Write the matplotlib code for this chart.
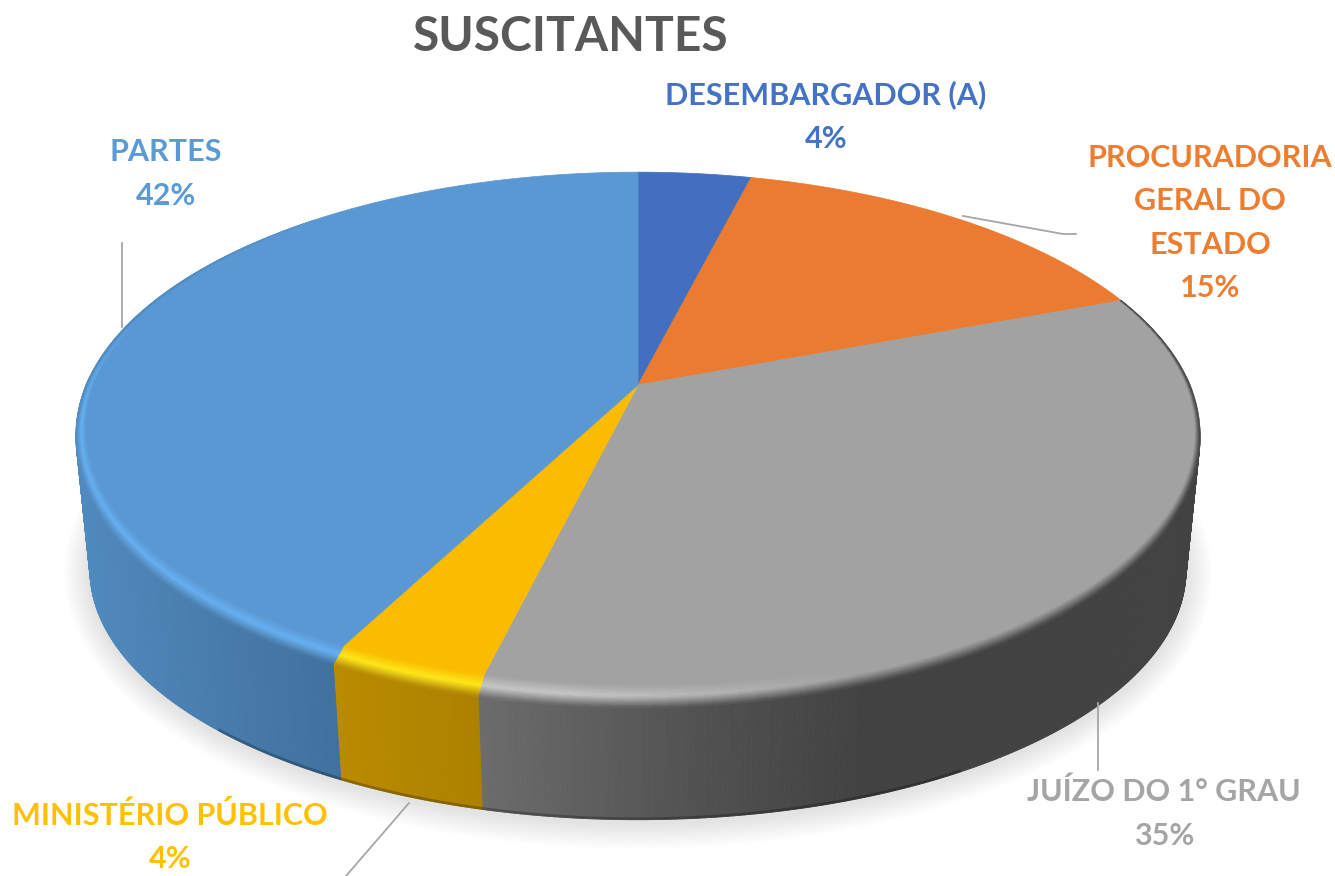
import numpy as np
import matplotlib.pyplot as plt
from matplotlib.collections import PolyCollection
from matplotlib.colors import to_rgb

# =========================
# Data
# =========================

title = "SUSCITANTES"
categories = ["DESEMBARGADOR (A)", "PROCURADORIA\nGERAL DO\nESTADO", "JUÍZO DO 1° GRAU",
              "MINISTÉRIO PÚBLICO", "PARTES"]
values = [3.9, 15.3, 34.6, 3.8, 42.4]

colors = ["#426FBF", "#EA7B30", "#A2A2A2", "#FBBC00", "#5A98D4"]
text_colors = ["#4472C4", "#ED7D31", "#A5A5A5", "#FFC000", "#5B9BD5"]
wall_stops = [
    ([0, 1335], ["#2f4f8a", "#2f4f8a"]),
    ([0, 1335], ["#a5561f", "#a5561f"]),
    ([480, 700, 860, 1335], ["#6c6c6c", "#515151", "#424242", "#424242"]),
    ([340, 480], ["#b98b00", "#ad8100"]),
    ([85, 330], ["#5089bd", "#41719e"]),
]
highlights = ["#4472C4", "#ED7D31", "#c8c8c8", "#ffe81a", "#68b1f2"]

label_pos = [(826, 117), (1210, 223), (1164, 814), (170, 837), (166, 174)]
leaders = [
    [(122, 243), (122, 327)],
    [(963, 216), (1063, 234), (1076, 234)],
    [(1098, 703), (1098, 770)],
    [(409, 803), (346, 876)],
]

# =========================
# Projection of the disk
# =========================

CX, CY = 638, 385
A, B, K = 552, 253, 0.1886
DROP = 11


def top_xy(theta, r=1.0):
    # theta in degrees, clockwise from the back of the disk
    t = np.radians(theta)
    x = r * np.sin(t)
    y = -r * np.cos(t)
    w = 1 - K * y
    return CX + A * x / w, CY + B * y / w


def front(theta):
    return np.clip(-np.cos(np.radians(theta)), 0, 1)


def rim_xy(theta):
    X, Y = top_xy(theta)
    return X, Y + DROP * front(theta)


def bottom_xy(theta):
    X, Y = top_xy(theta)
    return CX + (X - CX) * 0.975, 570 + (Y - 434.5) * 0.952


def mix(c1, c2, f):
    c1 = np.array(to_rgb(c1))
    c2 = np.array(to_rgb(c2))
    return tuple(c1 + (c2 - c1) * f)


def wall_color(i, X):
    xs, cs = wall_stops[i]
    rgb = np.array([to_rgb(c) for c in cs])
    return tuple(np.interp(X, xs, rgb[:, k]) for k in range(3))


fig = plt.figure(figsize=(13.35, 8.76), dpi=100)
ax = fig.add_axes([0, 0, 1, 1])
ax.set_xlim(0, 1335)
ax.set_ylim(876, 0)
ax.axis("off")

edges = np.concatenate([[0], np.cumsum(values)]) * 360 / sum(values)

# shadow
th = np.linspace(0, 360, 361)
bx, by = bottom_xy(th)
for grow in np.linspace(26, 2, 14):
    sx = CX + (bx - CX) * (1 + grow / 550)
    sy = 570 + (by - 570) * (1 + grow / 250) + 3
    ax.fill(sx, sy, color="black", alpha=0.009, lw=0, zorder=1)

# side wall
for i in range(len(values)):
    lo, hi = max(edges[i], 88), min(edges[i + 1], 272)
    if hi <= lo:
        continue
    th = np.linspace(lo, hi, int((hi - lo) * 2) + 2)
    polys, cols = [], []
    for a, b in zip(th[:-1], th[1:]):
        x0, y0 = rim_xy(a)
        x1, y1 = rim_xy(b)
        x2, y2 = bottom_xy(b)
        x3, y3 = bottom_xy(a)
        polys.append([(x0, y0), (x1, y1), (x2, y2), (x3, y3)])
        cols.append(wall_color(i, (x0 + x1 + x2 + x3) / 4))
    ax.add_collection(PolyCollection(polys, facecolors=cols, edgecolors=cols, linewidths=0.6, zorder=2))

# dark line along the foot of the wall
th = np.linspace(150, 222, 120)
fx, fy = bottom_xy(th)
ax.plot(fx, fy - 1, color="black", alpha=0.25, lw=2.0, zorder=3, solid_capstyle="round")

# top of the disk
for i in range(len(values)):
    th = np.linspace(edges[i], edges[i + 1], 200)
    x, y = top_xy(th)
    ax.fill(np.r_[CX, x], np.r_[CY, y], color=colors[i], ec=colors[i], lw=0.5, zorder=4)

# bevel along the rim
bands = np.linspace(0, 1, 15)
polys, cols = [], []
for i in range(len(values)):
    lo, hi = max(edges[i], 62), min(edges[i + 1], 318)
    if hi <= lo or i < 2:
        continue
    th = np.linspace(lo, hi, int((hi - lo) / 1.5) + 2)
    for a, b in zip(th[:-1], th[1:]):
        m = (a + b) / 2
        width = 0.014 + 0.018 * front(m)
        if m < 90:
            width *= 0.35 + 0.65 * (m - 62) / 28
        light = np.clip(1.7 * np.cos(np.radians(1.4 * (m - 225))), 0, 1)
        fade = np.clip((318 - m) / 45, 0, 1) if m > 270 else 1.0
        xm, ym = rim_xy(m)
        wall = wall_color(i, xm)
        peak = mix(colors[i], highlights[i], light)
        for t0, t1 in zip(bands[:-1], bands[1:]):
            tm = (t0 + t1) / 2
            if tm < 0.5:
                c = mix(colors[i], peak, tm / 0.5)
            else:
                c = mix(peak, wall, (tm - 0.5) / 0.5)
            c = mix(colors[i], c, fade)
            pts = []
            for ang, t in ((a, t0), (b, t0), (b, t1), (a, t1)):
                X, Y = top_xy(ang, 1 - width * (1 - t))
                pts.append((X, Y + DROP * front(ang) * t))
            polys.append(pts)
            cols.append(c)
ax.add_collection(PolyCollection(polys, facecolors=cols, edgecolors=cols, linewidths=0.4, zorder=5))

# leader lines
for line in leaders:
    xs, ys = zip(*line)
    ax.plot(xs, ys, color="#a6a6a6", lw=1.3, zorder=6)

# text
ax.text(571, 37, title, family="Lato", weight="bold", fontsize=34.5, color="#595959",
        ha="center", va="center", zorder=7)
for name, v, pos, c in zip(categories, values, label_pos, text_colors):
    ax.text(pos[0], pos[1], f"{name}\n{v:.0f}%", family="Lato", weight="bold", fontsize=22,
            color=c, ha="center", va="center", linespacing=1.68, zorder=7)

fig.savefig("out.png", dpi=100)
